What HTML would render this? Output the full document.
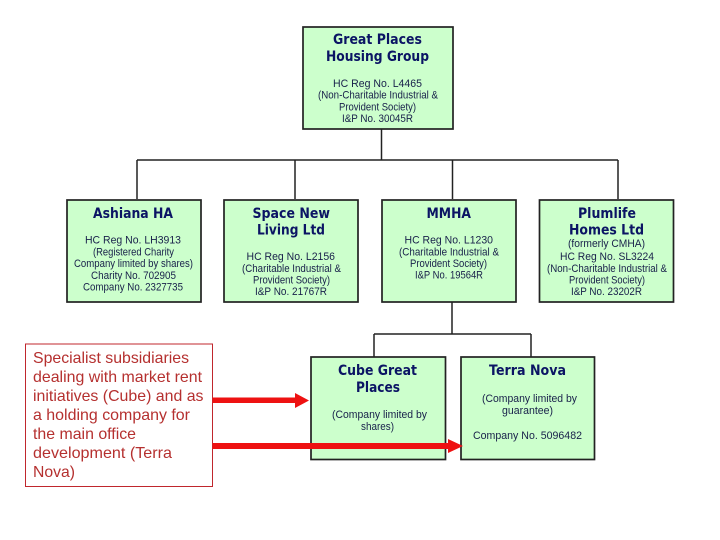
<!DOCTYPE html>
<html lang="en">
<head>
<meta charset="utf-8">
<title>Great Places Housing Group</title>
<style>
html,body{margin:0;padding:0;background:#fff;width:720px;height:540px;overflow:hidden}
svg{display:block}
.box{fill:#ccffcc;stroke:#222;stroke-width:1.7}
.ln{stroke:#222;stroke-width:1.5;fill:none}
.t{font:bold 14px "DejaVu Sans",sans-serif;fill:#0b1464}
.b{font:11px "Liberation Sans",Arial,sans-serif;fill:#18204a}
.r{font:16px "Liberation Sans",Arial,sans-serif;fill:#b5302f}
</style>
</head>
<body>
<svg width="720" height="540" viewBox="0 0 720 540" xmlns="http://www.w3.org/2000/svg">
<path class="ln" d="M381.5 129V160M137 160H618M137 160V199M295 160V199M452.5 160V199M618 160V199M452 302V334M374 334H531M374 334V357M531 334V357"/>
<rect class="box" x="303" y="27" width="150" height="102"/>
<rect class="box" x="67" y="200" width="134" height="102"/>
<rect class="box" x="224" y="200" width="134" height="102"/>
<rect class="box" x="382" y="200" width="134" height="102"/>
<rect class="box" x="539.5" y="200" width="134" height="102"/>
<rect class="box" x="311" y="357" width="134.500" height="102.500"/>
<rect class="box" x="461" y="357" width="133.500" height="102.500"/>

<text class="t" x="333" y="44" textLength="89" lengthAdjust="spacingAndGlyphs">Great Places</text>
<text class="t" x="326" y="61" textLength="103" lengthAdjust="spacingAndGlyphs">Housing Group</text>
<text class="b" x="333" y="87" textLength="89" lengthAdjust="spacingAndGlyphs">HC Reg No.  L4465</text>
<text class="b" x="318" y="98.500" textLength="120" lengthAdjust="spacingAndGlyphs">(Non-Charitable Industrial &amp;</text>
<text class="b" x="339" y="110.500" textLength="77" lengthAdjust="spacingAndGlyphs">Provident Society)</text>
<text class="b" x="342" y="122" textLength="71" lengthAdjust="spacingAndGlyphs">I&amp;P No.  30045R</text>

<text class="t" x="93" y="218" textLength="80" lengthAdjust="spacingAndGlyphs">Ashiana HA</text>
<text class="b" x="85" y="243.500" textLength="96" lengthAdjust="spacingAndGlyphs">HC Reg No.  LH3913</text>
<text class="b" x="93" y="255.500" textLength="81" lengthAdjust="spacingAndGlyphs">(Registered Charity</text>
<text class="b" x="74" y="267" textLength="119" lengthAdjust="spacingAndGlyphs">Company limited by shares)</text>
<text class="b" x="91" y="279" textLength="85" lengthAdjust="spacingAndGlyphs">Charity No.  702905</text>
<text class="b" x="83" y="290.500" textLength="100" lengthAdjust="spacingAndGlyphs">Company No.  2327735</text>

<text class="t" x="252.500" y="218" textLength="77.500" lengthAdjust="spacingAndGlyphs">Space New</text>
<text class="t" x="257" y="234.500" textLength="68" lengthAdjust="spacingAndGlyphs">Living Ltd</text>
<text class="b" x="246.500" y="260" textLength="88.500" lengthAdjust="spacingAndGlyphs">HC Reg No.  L2156</text>
<text class="b" x="242" y="272" textLength="99" lengthAdjust="spacingAndGlyphs">(Charitable Industrial &amp;</text>
<text class="b" x="253" y="283.500" textLength="77" lengthAdjust="spacingAndGlyphs">Provident Society)</text>
<text class="b" x="255" y="295" textLength="72" lengthAdjust="spacingAndGlyphs">I&amp;P No.  21767R</text>

<text class="t" x="426.500" y="218" textLength="44.500" lengthAdjust="spacingAndGlyphs">MMHA</text>
<text class="b" x="404.500" y="243.500" textLength="88.500" lengthAdjust="spacingAndGlyphs">HC Reg No.  L1230</text>
<text class="b" x="399" y="255.500" textLength="100" lengthAdjust="spacingAndGlyphs">(Charitable Industrial &amp;</text>
<text class="b" x="410" y="267" textLength="77" lengthAdjust="spacingAndGlyphs">Provident Society)</text>
<text class="b" x="415" y="278.500" textLength="68" lengthAdjust="spacingAndGlyphs">I&amp;P No. 19564R</text>

<text class="t" x="578" y="218" textLength="58" lengthAdjust="spacingAndGlyphs">Plumlife</text>
<text class="t" x="569" y="234.500" textLength="75" lengthAdjust="spacingAndGlyphs">Homes Ltd</text>
<text class="b" x="568" y="247" textLength="77" lengthAdjust="spacingAndGlyphs">(formerly CMHA)</text>
<text class="b" x="560" y="260" textLength="94" lengthAdjust="spacingAndGlyphs">HC Reg No.  SL3224</text>
<text class="b" x="547" y="272" textLength="120" lengthAdjust="spacingAndGlyphs">(Non-Charitable Industrial &amp;</text>
<text class="b" x="569" y="283.500" textLength="76" lengthAdjust="spacingAndGlyphs">Provident Society)</text>
<text class="b" x="571" y="295" textLength="71" lengthAdjust="spacingAndGlyphs">I&amp;P No.  23202R</text>

<text class="t" x="338" y="375" textLength="79" lengthAdjust="spacingAndGlyphs">Cube Great</text>
<text class="t" x="356" y="392" textLength="44" lengthAdjust="spacingAndGlyphs">Places</text>
<text class="b" x="332" y="418" textLength="95" lengthAdjust="spacingAndGlyphs">(Company limited by</text>
<text class="b" x="361" y="430" textLength="33" lengthAdjust="spacingAndGlyphs">shares)</text>

<text class="t" x="489" y="375" textLength="77" lengthAdjust="spacingAndGlyphs">Terra Nova</text>
<text class="b" x="482" y="402" textLength="95" lengthAdjust="spacingAndGlyphs">(Company limited by</text>
<text class="b" x="502" y="414" textLength="51" lengthAdjust="spacingAndGlyphs">guarantee)</text>
<text class="b" x="473" y="439" textLength="109" lengthAdjust="spacingAndGlyphs">Company No.  5096482</text>

<rect x="25.500" y="344" width="187" height="142.500" fill="#fff" stroke="#c0272d" stroke-width="1"/>
<text class="r" x="33" y="363" textLength="156" lengthAdjust="spacingAndGlyphs">Specialist subsidiaries</text>
<text class="r" x="33" y="382" textLength="169" lengthAdjust="spacingAndGlyphs">dealing with market rent</text>
<text class="r" x="33" y="401" textLength="170.500" lengthAdjust="spacingAndGlyphs">initiatives (Cube) and as</text>
<text class="r" x="33" y="420" textLength="157" lengthAdjust="spacingAndGlyphs">a holding company for</text>
<text class="r" x="33" y="439" textLength="103" lengthAdjust="spacingAndGlyphs">the main office</text>
<text class="r" x="33" y="458" textLength="139" lengthAdjust="spacingAndGlyphs">development (Terra</text>
<text class="r" x="33" y="477" textLength="42" lengthAdjust="spacingAndGlyphs">Nova)</text>

<path fill="#ee1111" d="M212.500 397.500H295V393L309 400.500L295 408V403H212.500Z"/>
<path fill="#ee1111" d="M212.500 443H448V439L463 446L448 453V449H212.500Z"/>
</svg>
</body>
</html>
